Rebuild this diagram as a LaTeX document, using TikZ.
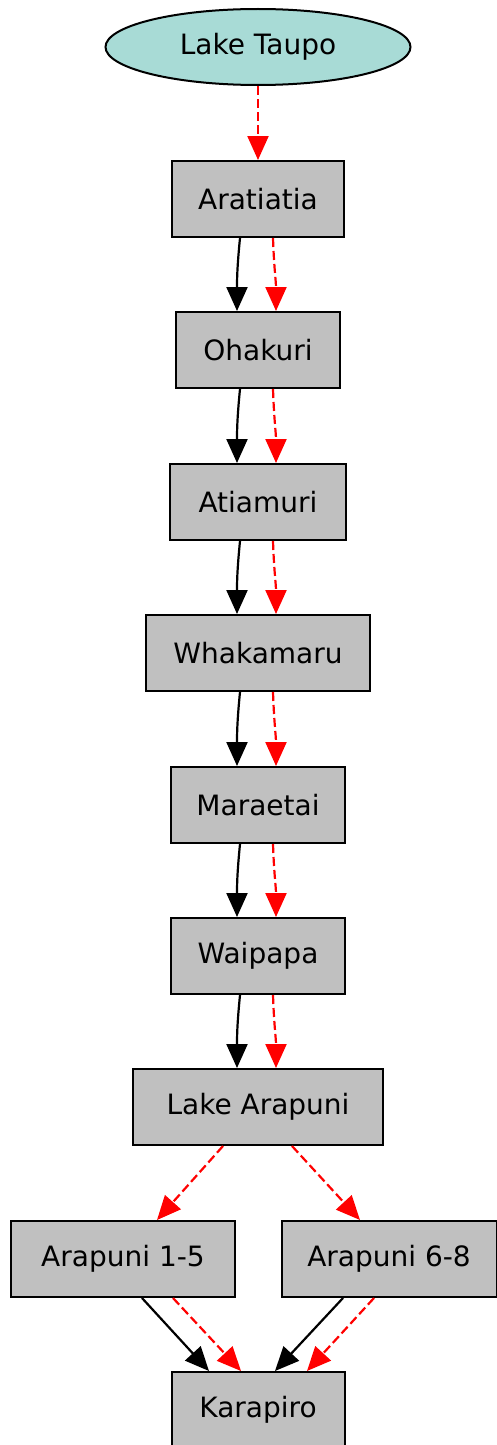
\documentclass[tikz,border=0pt]{standalone}
\usepackage{fontspec}
\setmainfont{DejaVu Sans}
\usetikzlibrary{shapes.geometric,arrows.meta}

\definecolor{lakefill}{RGB}{168,219,214}
\definecolor{damfill}{RGB}{192,192,192}

\tikzset{
  dam/.style={draw, fill=damfill, line width=2pt, rectangle, minimum height=76pt, inner sep=0pt, font=\fontsize{28}{32}\selectfont},
  lake/.style={draw, fill=lakefill, line width=2pt, ellipse, minimum width=305pt, minimum height=76pt, inner sep=0pt, font=\fontsize{28}{32}\selectfont},
  flow/.style={line width=2.2pt, -{Triangle[length=24pt,width=21pt]}},
  spill/.style={flow, red, dash pattern=on 9pt off 4pt}
}

\begin{document}
\begin{tikzpicture}[x=1pt, y=-1pt]
        \useasboundingbox (0,0) rectangle (496,1445);

        % Lago
        \node[lake] (taupo) at (258,47) {Lake Taupo};

        % Presas en cadena
        \node[dam, minimum width=172pt] (aratiatia) at (258,199) {Aratiatia};
        \node[dam, minimum width=164pt] (ohakuri) at (258,350) {Ohakuri};
        \node[dam, minimum width=176pt] (atiamuri) at (258,502) {Atiamuri};
        \node[dam, minimum width=224pt] (whakamaru) at (258,653) {Whakamaru};
        \node[dam, minimum width=174pt] (maraetai) at (258,805) {Maraetai};
        \node[dam, minimum width=174pt] (waipapa) at (258,956) {Waipapa};
        \node[dam, minimum width=250pt] (arapuni) at (258,1107) {Lake Arapuni};

        % Dos estaciones
        \node[dam, minimum width=224pt] (arapA) at (123,1259) {Arapuni 1-5};
        \node[dam, minimum width=215pt] (arapB) at (389,1259) {Arapuni 6-8};
        \node[dam, minimum width=173pt] (karapiro) at (258,1410) {Karapiro};

        % Lago -> primera presa
        \draw[spill] (taupo.south) -- (aratiatia.north);

        % Pares de flechas
        \foreach \a/\b in {aratiatia/ohakuri, ohakuri/atiamuri, atiamuri/whakamaru,
                           whakamaru/maraetai, maraetai/waipapa, waipapa/arapuni} {
            \draw[flow] ([xshift=-18pt]\a.south) .. controls +(-3,30) and +(0,-30) .. ([xshift=-21pt]\b.north);
            \draw[spill] ([xshift=15pt]\a.south) .. controls +(1,30) and +(0,-30) .. ([xshift=18pt]\b.north);
        }

        % Division
        \draw[spill] ([xshift=-35pt]arapuni.south) -- ([xshift=34pt]arapA.north);
        \draw[spill] ([xshift=34pt]arapuni.south) -- ([xshift=-29pt]arapB.north);

        % Union
        \draw[flow] ([xshift=19pt]arapA.south) -- ([xshift=-49pt]karapiro.north);
        \draw[spill] ([xshift=50pt]arapA.south) -- ([xshift=-17pt]karapiro.north);
        \draw[flow] ([xshift=-46pt]arapB.south) -- ([xshift=17pt]karapiro.north);
        \draw[spill] ([xshift=-15pt]arapB.south) -- ([xshift=49pt]karapiro.north);
    \end{tikzpicture}
\end{document}
